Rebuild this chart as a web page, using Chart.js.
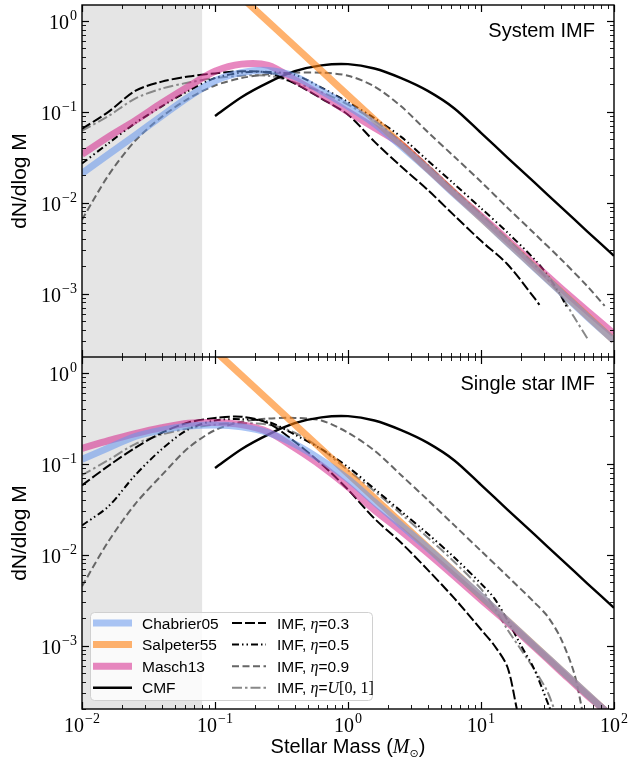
<!DOCTYPE html>
<html>
<head>
<meta charset="utf-8">
<script src="https://cdn.jsdelivr.net/npm/chart.js@4.4.1/dist/chart.umd.min.js"></script>
<style>
  html, body { margin: 0; padding: 0; background: #fff; }
  #wrap { position: relative; width: 630px; height: 767px; }
  canvas { position: absolute; left: 0; }
  #top { top: 0; }
  #bot { top: 357px; }
</style>
</head>
<body>
<div id="wrap">
  <canvas id="top" width="630" height="357"></canvas>
  <canvas id="bot" width="630" height="410"></canvas>
</div>
<script>
// masses (Msun) on a 0.2 dex grid
const massGrid = [0.01, 0.0158, 0.0251, 0.0398, 0.0631, 0.1, 0.158, 0.251, 0.398, 0.631, 1, 1.58, 2.51, 3.98, 6.31, 10, 15.8, 25.1, 39.8, 63.1, 100];
const salpMass = [0.1, 1, 10, 100];
const cmfMass = [0.1, 0.158, 0.251, 0.398, 0.631, 1, 1.58, 2.51, 3.98, 6.31, 10, 15.8, 25.1, 39.8, 63.1, 100];
const cmfVals = [0.09, 0.145, 0.21, 0.28, 0.325, 0.335, 0.30, 0.235, 0.17, 0.109, 0.0586, 0.0314, 0.0168, 0.009, 0.0048, 0.0026];

// top panel: system IMF
const sysChabrier = [0.021, 0.034, 0.055, 0.09, 0.145, 0.22, 0.27, 0.285, 0.245, 0.17, 0.115, 0.074, 0.042, 0.0232, 0.0124, 0.0068, 0.00363, 0.00194, 0.00104, 0.000554, 0.000303];
const sysSalpeter = [3.40, 0.152, 0.00679, 0.000303];
const sysMasch = [0.034, 0.053, 0.08, 0.125, 0.19, 0.28, 0.335, 0.325, 0.225, 0.152, 0.1, 0.067, 0.044, 0.0238, 0.0128, 0.0071, 0.0039, 0.0021, 0.00115, 0.00064, 0.00036];
const sysEta03Mass = [0.01, 0.0158, 0.0251, 0.0398, 0.0631, 0.1, 0.158, 0.251, 0.398, 0.631, 1, 1.58, 2.51, 3.98, 6.31, 10, 15.8, 25.1, 27.5];
const sysEta03 = [0.065, 0.1, 0.17, 0.215, 0.245, 0.265, 0.28, 0.27, 0.205, 0.14, 0.093, 0.047, 0.025, 0.0138, 0.0072, 0.0038, 0.0021, 0.0009, 0.00075];
const sysEta05Mass = [0.01, 0.0158, 0.0251, 0.0398, 0.0631, 0.1, 0.158, 0.251, 0.398, 0.631, 1, 1.58, 2.51, 3.98, 6.31, 10, 15.8, 25.1, 31.6, 39.8, 44.7];
const sysEta05 = [0.027, 0.045, 0.075, 0.115, 0.17, 0.235, 0.27, 0.275, 0.255, 0.185, 0.128, 0.085, 0.053, 0.029, 0.016, 0.0087, 0.0047, 0.0024, 0.0016, 0.00095, 0.00068];
const sysEta09Mass = [0.01, 0.0158, 0.0251, 0.0398, 0.0631, 0.1, 0.158, 0.251, 0.398, 0.631, 1, 1.58, 2.51, 3.98, 6.31, 10, 15.8, 25.1, 39.8, 63.1, 85.1];
const sysEta09 = [0.0065, 0.02, 0.048, 0.088, 0.14, 0.195, 0.235, 0.26, 0.27, 0.27, 0.25, 0.19, 0.115, 0.06, 0.032, 0.017, 0.0088, 0.0046, 0.0024, 0.0012, 0.00073];
const sysEtaUMass = [0.01, 0.0158, 0.0251, 0.0398, 0.0631, 0.1, 0.158, 0.251, 0.398, 0.631, 1, 1.58, 2.51, 3.98, 6.31, 10, 15.8, 25.1, 39.8, 50.1, 63.1];
const sysEtaU = [0.062, 0.09, 0.14, 0.18, 0.21, 0.235, 0.25, 0.25, 0.21, 0.165, 0.12, 0.08, 0.047, 0.026, 0.0138, 0.0075, 0.004, 0.0021, 0.00095, 0.00055, 0.00032];

// bottom panel: single star IMF
const singleChabrier = [0.112, 0.15, 0.2, 0.235, 0.26, 0.268, 0.255, 0.22, 0.165, 0.11, 0.068, 0.038, 0.021, 0.0118, 0.0064, 0.0035, 0.00187, 0.001, 0.00054, 0.00029, 0.000156];
const singleSalpeter = [1.75, 0.078, 0.00348, 0.000156];
const singleMasch = [0.148, 0.18, 0.215, 0.25, 0.28, 0.285, 0.27, 0.225, 0.15, 0.095, 0.056, 0.031, 0.0182, 0.0104, 0.0058, 0.0032, 0.0018, 0.00097, 0.00052, 0.00028, 0.00016];
const singleEta03Mass = [0.01, 0.0158, 0.0251, 0.0398, 0.0631, 0.1, 0.158, 0.251, 0.398, 0.631, 1, 1.58, 2.51, 3.98, 6.31, 10, 12.6, 15.8, 18.6];
const singleEta03 = [0.058, 0.095, 0.15, 0.22, 0.285, 0.32, 0.33, 0.28, 0.175, 0.1, 0.052, 0.025, 0.0135, 0.0068, 0.0033, 0.0015, 0.001, 0.00058, 0.0002];
const singleEta05Mass = [0.01, 0.0158, 0.0251, 0.0398, 0.0631, 0.1, 0.158, 0.251, 0.398, 0.631, 1, 1.58, 2.51, 3.98, 6.31, 10, 12.6, 15.8, 20, 25.1, 33.1];
const singleEta05 = [0.021, 0.034, 0.075, 0.145, 0.24, 0.3, 0.31, 0.29, 0.21, 0.145, 0.092, 0.053, 0.03, 0.017, 0.0093, 0.0048, 0.0033, 0.0019, 0.001, 0.00055, 0.0002];
const singleEta09Mass = [0.01, 0.0158, 0.0251, 0.0398, 0.0631, 0.1, 0.158, 0.251, 0.398, 0.631, 1, 1.58, 2.51, 3.98, 6.31, 10, 15.8, 25.1, 31.6, 39.8, 50.1, 57.5];
const singleEta09 = [0.0045, 0.014, 0.036, 0.075, 0.15, 0.235, 0.29, 0.315, 0.32, 0.3, 0.22, 0.14, 0.075, 0.04, 0.021, 0.011, 0.0058, 0.003, 0.0021, 0.0012, 0.0005, 0.0002];
const singleEtaUMass = [0.01, 0.0158, 0.0251, 0.0398, 0.0631, 0.1, 0.158, 0.251, 0.398, 0.631, 1, 1.58, 2.51, 3.98, 6.31, 10, 12.6, 15.8, 20, 25.1, 31.6, 35.5];
const singleEtaU = [0.075, 0.11, 0.165, 0.21, 0.245, 0.27, 0.28, 0.27, 0.22, 0.145, 0.085, 0.05, 0.028, 0.0155, 0.0083, 0.0042, 0.0026, 0.0015, 0.0009, 0.00055, 0.00031, 0.0002];

const xTickExp = [-2, -1, 0, 1, 2];
const yTickExp = [-3, -2, -1, 0];

const SANS = '"Liberation Sans", Arial, sans-serif';
const SERIF = '"Liberation Serif", "DejaVu Serif", serif';

const styles = {
  chab: { borderColor: 'rgba(100,149,237,0.55)', borderWidth: 7 },
  salp: { borderColor: 'rgba(255,127,14,0.6)', borderWidth: 7 },
  masch: { borderColor: 'rgba(214,39,140,0.55)', borderWidth: 7 },
  cmf: { borderColor: '#000', borderWidth: 2.4 },
  e03: { borderColor: '#000', borderWidth: 2, borderDash: [10, 3] },
  e05: { borderColor: '#000', borderWidth: 2, borderDash: [7, 3, 1.5, 3, 1.5, 3] },
  e09: { borderColor: '#666', borderWidth: 2, borderDash: [7, 3.5] },
  eU: { borderColor: '#888', borderWidth: 2, borderDash: [10, 3, 2.5, 3] }
};

function series(label, mass, vals, st) {
  return Object.assign({
    label: label,
    data: mass.map((m, i) => ({ x: m, y: vals[i] })),
    pointRadius: 0,
    fill: false,
    clip: 0,
    tension: 0.3,
    borderCapStyle: 'butt'
  }, st);
}

function drawPow(ctx, e, x, y, align) {
  const base = '20px ' + SERIF, sup = '14px ' + SERIF;
  const es = e < 0 ? '\u2212' + (-e) : String(e);
  ctx.font = base;
  const w1 = ctx.measureText('10').width;
  ctx.font = sup;
  const w2 = ctx.measureText(es).width;
  const total = w1 + w2 + 1;
  const x0 = align === 'right' ? x - total : x - total / 2;
  ctx.textAlign = 'left';
  ctx.textBaseline = 'alphabetic';
  ctx.fillStyle = '#000';
  ctx.font = base;
  ctx.fillText('10', x0, y + 8);
  ctx.font = sup;
  ctx.fillText(es, x0 + w1 + 1, y - 1);
}

function drawRich(ctx, parts, x, y, align) {
  let w = 0;
  parts.forEach(p => { ctx.font = p.f; w += ctx.measureText(p.t).width; });
  let cx = align === 'center' ? x - w / 2 : x;
  ctx.textAlign = 'left';
  ctx.textBaseline = 'alphabetic';
  ctx.fillStyle = '#000';
  parts.forEach(p => {
    ctx.font = p.f;
    ctx.fillText(p.t, cx, y + (p.dy || 0));
    cx += ctx.measureText(p.t).width;
  });
}

function hline(ctx, x1, y1, x2, y2) {
  ctx.beginPath(); ctx.moveTo(x1, y1); ctx.lineTo(x2, y2); ctx.stroke();
}

const legendRows = [
  [{ t: 'Chabrier05', st: styles.chab }, { parts: 'IMF03', st: styles.e03 }],
  [{ t: 'Salpeter55', st: styles.salp }, { parts: 'IMF05', st: styles.e05 }],
  [{ t: 'Masch13', st: styles.masch }, { parts: 'IMF09', st: styles.e09 }],
  [{ t: 'CMF', st: styles.cmf }, { parts: 'IMFU', st: styles.eU }]
];

function imfParts(key) {
  const s = '15.5px ' + SANS, it = 'italic 16px ' + SERIF, rm = '16px ' + SERIF;
  const pre = [{ t: 'IMF, ', f: s }, { t: '\u03b7', f: it }];
  if (key === 'IMF03') return pre.concat([{ t: '=0.3', f: s }]);
  if (key === 'IMF05') return pre.concat([{ t: '=0.5', f: s }]);
  if (key === 'IMF09') return pre.concat([{ t: '=0.9', f: s }]);
  return pre.concat([{ t: '=', f: s }, { t: 'U', f: it }, { t: '[0, 1]', f: rm }]);
}

function drawLegend(ctx) {
  const bx = 90, by = 255, bw = 282, bh = 88;
  ctx.save();
  ctx.beginPath();
  ctx.roundRect(bx + 0.5, by + 0.5, bw, bh, 4);
  ctx.fillStyle = 'rgba(255,255,255,0.8)';
  ctx.fill();
  ctx.strokeStyle = '#d0d0d0';
  ctx.lineWidth = 1;
  ctx.stroke();
  legendRows.forEach((row, i) => {
    const y = 266 + i * 21.6;
    const cols = [{ s0: 93, s1: 132, tx: 142 }, { s0: 232, s1: 266, tx: 277 }];
    row.forEach((it, c) => {
      const col = cols[c];
      ctx.strokeStyle = it.st.borderColor;
      ctx.lineWidth = it.st.borderWidth;
      ctx.setLineDash(it.st.borderDash || []);
      ctx.lineCap = 'butt';
      hline(ctx, col.s0, y, col.s1, y);
      ctx.setLineDash([]);
      if (it.t) drawRich(ctx, [{ t: it.t, f: '15.5px ' + SANS }], col.tx, y + 5.5, 'left');
      else drawRich(ctx, imfParts(it.parts), col.tx, y + 5.5, 'left');
    });
  });
  ctx.restore();
}

const framePlugin = {
  id: 'frame',
  beforeDatasetsDraw(chart) {
    const ctx = chart.ctx, a = chart.chartArea, xs = chart.scales.x;
    const x0 = xs.getPixelForValue(0.01), x1 = xs.getPixelForValue(0.08);
    ctx.save();
    ctx.fillStyle = '#e5e5e5';
    ctx.fillRect(x0, a.top, x1 - x0, a.bottom - a.top);
    ctx.restore();
  },
  afterDraw(chart, args, o) {
    const ctx = chart.ctx, a = chart.chartArea, xs = chart.scales.x, ys = chart.scales.y;
    ctx.save();
    ctx.strokeStyle = '#000';
    // inward ticks on all four sides
    for (let d = -2; d <= 2; d++) {
      for (let m = 1; m <= 9; m++) {
        const v = m * Math.pow(10, d);
        if (v < 0.0099 || v > 100.1) continue;
        const px = Math.round(xs.getPixelForValue(v)) + 0.5;
        const len = m === 1 ? 7 : 4;
        ctx.lineWidth = m === 1 ? 1.2 : 0.9;
        hline(ctx, px, a.top, px, a.top + len);
        hline(ctx, px, a.bottom, px, a.bottom - len);
      }
    }
    for (let d = -4; d <= 0; d++) {
      for (let m = 1; m <= 9; m++) {
        const v = m * Math.pow(10, d);
        if (v < ys.min || v > ys.max) continue;
        const py = Math.round(ys.getPixelForValue(v)) + 0.5;
        const len = m === 1 ? 7 : 4;
        ctx.lineWidth = m === 1 ? 1.2 : 0.9;
        hline(ctx, a.left, py, a.left + len, py);
        hline(ctx, a.right, py, a.right - len, py);
      }
    }
    ctx.lineWidth = 1.4;
    ctx.strokeRect(a.left, a.top, a.right - a.left, a.bottom - a.top);

    yTickExp.forEach(e => drawPow(ctx, e, a.left - 5, ys.getPixelForValue(Math.pow(10, e)), 'right'));

    // panel label
    ctx.font = '20px ' + SANS;
    ctx.textAlign = 'right';
    ctx.textBaseline = 'alphabetic';
    ctx.fillStyle = '#000';
    ctx.fillText(o.panel, 595, a.top + (o.showX ? 33 : 32));

    // y label
    ctx.save();
    ctx.translate(20, (a.top + a.bottom) / 2);
    ctx.rotate(-Math.PI / 2);
    ctx.font = '21px ' + SANS;
    ctx.textAlign = 'center';
    ctx.textBaseline = 'middle';
    ctx.fillText('dN/dlog M', 0, 0);
    ctx.restore();

    if (o.showX) {
      xTickExp.forEach(e => {
        const px = xs.getPixelForValue(Math.pow(10, e));
        drawPow(ctx, e, px, a.bottom + 15, 'center');
      });
      drawRich(ctx, [
        { t: 'Stellar Mass (', f: '20px ' + SANS },
        { t: 'M', f: 'italic 20px ' + SERIF },
        { t: '\u2299', f: '11px "DejaVu Sans"', dy: 4 },
        { t: ')', f: '20px ' + SANS }
      ], (a.left + a.right) / 2, a.bottom + 44, 'center');
      drawLegend(ctx);
    }
    ctx.restore();
  }
};

function makeOptions(panel, showX, pad) {
  return {
    responsive: false,
    animation: false,
    layout: { padding: pad },
    scales: {
      x: { type: 'logarithmic', min: 0.01, max: 100, display: false },
      y: { type: 'logarithmic', min: 2e-4, max: 1.5, display: false }
    },
    plugins: {
      legend: { display: false },
      tooltip: { enabled: false },
      frame: { panel: panel, showX: showX }
    }
  };
}

new Chart(document.getElementById('top').getContext('2d'), {
  type: 'line',
  data: {
    datasets: [
      series('Chabrier05', massGrid, sysChabrier, styles.chab),
      series('Salpeter55', salpMass, sysSalpeter, styles.salp),
      series('Masch13', massGrid, sysMasch, styles.masch),
      series('CMF', cmfMass, cmfVals, styles.cmf),
      series('IMF, η=0.3', sysEta03Mass, sysEta03, styles.e03),
      series('IMF, η=0.5', sysEta05Mass, sysEta05, styles.e05),
      series('IMF, η=0.9', sysEta09Mass, sysEta09, styles.e09),
      series('IMF, η=U[0,1]', sysEtaUMass, sysEtaU, styles.eU)
    ]
  },
  options: makeOptions('System IMF', false, { left: 82, top: 5, right: 16, bottom: 0 }),
  plugins: [framePlugin]
});

new Chart(document.getElementById('bot').getContext('2d'), {
  type: 'line',
  data: {
    datasets: [
      series('Chabrier05', massGrid, singleChabrier, styles.chab),
      series('Salpeter55', salpMass, singleSalpeter, styles.salp),
      series('Masch13', massGrid, singleMasch, styles.masch),
      series('CMF', cmfMass, cmfVals, styles.cmf),
      series('IMF, η=0.3', singleEta03Mass, singleEta03, styles.e03),
      series('IMF, η=0.5', singleEta05Mass, singleEta05, styles.e05),
      series('IMF, η=0.9', singleEta09Mass, singleEta09, styles.e09),
      series('IMF, η=U[0,1]', singleEtaUMass, singleEtaU, styles.eU)
    ]
  },
  options: makeOptions('Single star IMF', true, { left: 82, top: 0, right: 16, bottom: 58 }),
  plugins: [framePlugin]
});
</script>
</body>
</html>
